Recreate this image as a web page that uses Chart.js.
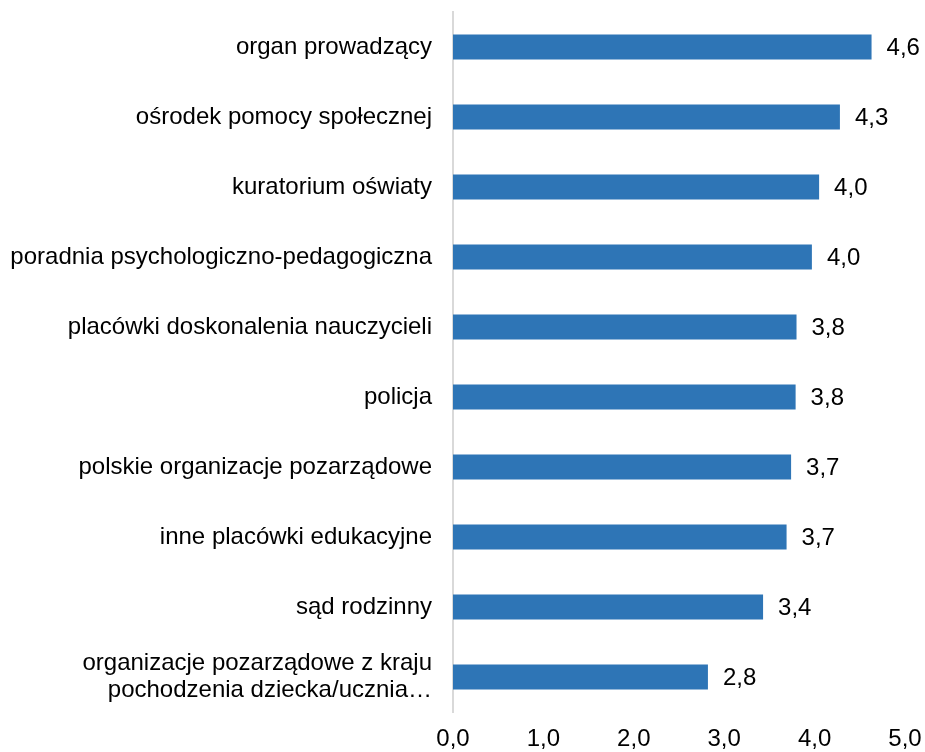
<!DOCTYPE html>
<html>
<head>
<meta charset="utf-8">
<script src="https://cdn.jsdelivr.net/npm/chart.js@4.4.0/dist/chart.umd.min.js"></script>
<style>
  html, body { margin: 0; padding: 0; background: #fff; }
  #wrap { width: 925px; height: 752px; }
</style>
</head>
<body>
<div id="wrap"><canvas id="chart"></canvas></div>
<script>
const categories = [
  'organ prowadzący',
  'ośrodek pomocy społecznej',
  'kuratorium oświaty',
  'poradnia psychologiczno-pedagogiczna',
  'placówki doskonalenia nauczycieli',
  'policja',
  'polskie organizacje pozarządowe',
  'inne placówki edukacyjne',
  'sąd rodzinny',
  ['organizacje pozarządowe z kraju', 'pochodzenia dziecka/ucznia…'],
];
const values = [4.63, 4.28, 4.05, 3.97, 3.80, 3.79, 3.74, 3.69, 3.43, 2.82];
const xTicks = [0, 1, 2, 3, 4, 5];

const fmt = (v) => v.toFixed(1).replace('.', ',');
const FONT = 'Liberation Sans, Arial, sans-serif';

// labels at the end of each bar
const barLabels = {
  id: 'barLabels',
  afterDatasetsDraw(chart) {
    const ctx = chart.ctx;
    const meta = chart.getDatasetMeta(0);
    ctx.save();
    ctx.font = '24px ' + FONT;
    ctx.fillStyle = '#000';
    ctx.textAlign = 'left';
    ctx.textBaseline = 'middle';
    meta.data.forEach((bar, i) => {
      ctx.fillText(fmt(values[i]), bar.x + 15, bar.y + 1);
    });
    ctx.restore();
  },
};

// eslint-disable-next-line no-unused-vars
const chart = new Chart(document.getElementById('chart').getContext('2d'), {
  type: 'bar',
  data: {
    labels: categories,
    datasets: [{
      data: values,
      backgroundColor: '#2E75B6',
      barPercentage: 0.36,
      categoryPercentage: 1,
    }],
  },
  options: {
    indexAxis: 'y',
    responsive: true,
    maintainAspectRatio: false,
    animation: false,
    layout: { padding: { top: 12, right: 20, bottom: 0, left: 0 } },
    plugins: { legend: { display: false }, tooltip: { enabled: false } },
    scales: {
      x: {
        min: 0,
        max: 5,
        afterBuildTicks: (s) => { s.ticks = xTicks.map((v) => ({ value: v })); },
        afterFit: (s) => { s.height = 40; s.paddingLeft = 0; s.paddingRight = 0; },
        grid: { display: false, drawTicks: false },
        border: { display: false },
        ticks: {
          color: '#000',
          font: { family: FONT, size: 24 },
          padding: 13,
          maxRotation: 0,
          callback: (v) => fmt(v),
        },
      },
      y: {
        afterFit: (s) => { s.width = 453; s.paddingTop = 0; s.paddingBottom = 0; },
        grid: { display: false, drawTicks: false },
        border: { display: true, color: '#D9D9D9', width: 2 },
        ticks: {
          color: '#000',
          font: { family: FONT, size: 24, lineHeight: 1.125 },
          padding: 21,
        },
      },
    },
  },
  plugins: [barLabels],
});
</script>
</body>
</html>
